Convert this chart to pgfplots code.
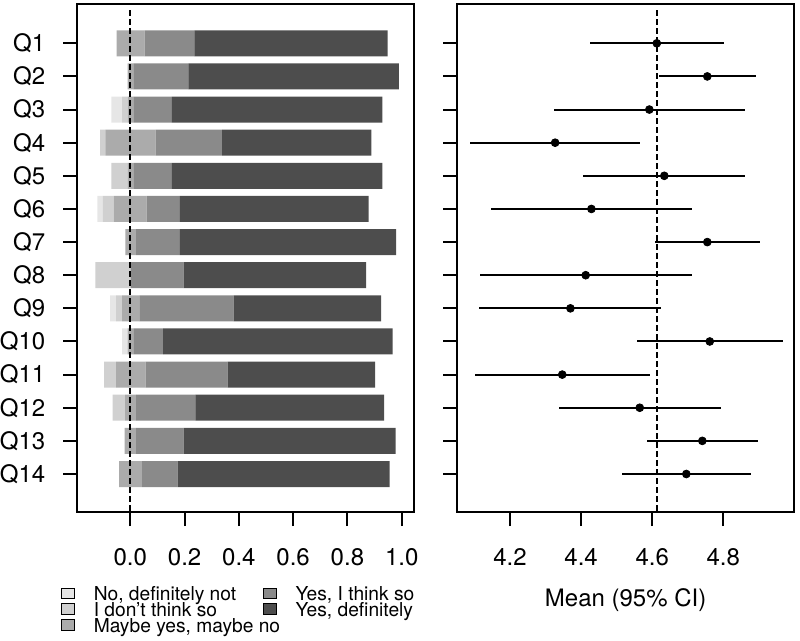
\documentclass[border=0pt]{standalone}
\usepackage{fontspec}
\setmainfont{TeX Gyre Heros}
\usepackage{pgfplots}
\usepackage{pgfplotstable}
\pgfplotsset{compat=1.18}
\definecolor{cA}{RGB}{230,230,230}
\definecolor{cB}{RGB}{208,208,208}
\definecolor{cC}{RGB}{171,171,171}
\definecolor{cD}{RGB}{138,138,138}
\definecolor{cE}{RGB}{77,77,77}

\pgfplotstableread{
y off a b c d e
1 -0.0501 0 0 0.1032 0.1827 0.7126
2 -0.0096 0 0 0.0207 0.2026 0.7763
3 -0.0700 0.0394 0.0210 0.0207 0.1425 0.7749
4 -0.1116 0 0.0195 0.1857 0.2443 0.5501
5 -0.0700 0 0.0615 0.0196 0.1425 0.7749
6 -0.1216 0.0199 0.0405 0.1216 0.1227 0.6953
7 -0.0184 0 0 0.0394 0.1621 0.7959
8 -0.1290 0 0.1305 0 0.1953 0.6717
9 -0.0748 0.0221 0.0221 0.0638 0.3478 0.5427
10 -0.0306 0.0210 0 0.0207 0.1094 0.8463
11 -0.0969 0 0.0442 0.1094 0.3022 0.5427
12 -0.0648 0 0.0453 0.0405 0.2185 0.6953
13 -0.0206 0 0 0.0416 0.1758 0.7811
14 -0.0416 0 0 0.0847 0.1316 0.7811
}\likert

\pgfplotstableread{
y m lo hi
1 4.613 4.425 4.801
2 4.755 4.620 4.892
3 4.592 4.324 4.862
4 4.327 4.088 4.566
5 4.634 4.405 4.862
6 4.429 4.147 4.711
7 4.755 4.609 4.904
8 4.413 4.116 4.711
9 4.370 4.114 4.625
10 4.762 4.556 4.967
11 4.347 4.102 4.594
12 4.565 4.339 4.793
13 4.741 4.584 4.897
14 4.696 4.514 4.879
}\ci

\pgfplotsset{
  common/.style={
    scale only axis, width=168.35bp, height=253.75bp,
    ymin=-0.171, ymax=15.147, y dir=reverse,
    ytick={1,2,3,4,5,6,7,8,9,10,11,12,13,14},
    tick align=outside, tick pos=left,
    major tick length=7bp,
    tick style={line width=1bp, black},
    axis line style={line width=1bp},
    tick label style={font=\fontsize{12bp}{14bp}\selectfont},
    /pgf/number format/assume math mode=true,
    xticklabel style={anchor=base, inner sep=0pt, yshift=-19.5bp},
    yticklabel style={anchor=east, inner sep=0pt, xshift=-8.85bp},
  }
}

\begin{document}
\begin{tikzpicture}
\useasboundingbox (0,0) rectangle (400bp,320.5bp);
\begin{axis}[common,
  at={(38.65bp,64.5bp)}, anchor=south west,
  xmin=-0.1953, xmax=1.0453,
  xbar stacked, bar width=0.785,
  stack negative=on previous,
  reverse stacked plots=false,
  xtick={0,0.2,0.4,0.6,0.8,1},
  xticklabels={\mbox{0.0},\mbox{0.2},\mbox{0.4},\mbox{0.6},\mbox{0.8},\mbox{1.0}},
  yticklabels={\mbox{Q1},\mbox{Q2},\mbox{Q3},\mbox{Q4},\mbox{Q5},\mbox{Q6},\mbox{Q7},\mbox{Q8},\mbox{Q9},\mbox{Q10},\mbox{Q11},\mbox{Q12},\mbox{Q13},\mbox{Q14}},
]
\addplot[draw=none, fill=none] table[x=off, y=y] {\likert};
\addplot[draw=none, fill=cA] table[x=a, y=y] {\likert};
\addplot[draw=none, fill=cB] table[x=b, y=y] {\likert};
\addplot[draw=none, fill=cC] table[x=c, y=y] {\likert};
\addplot[draw=none, fill=cD] table[x=d, y=y] {\likert};
\addplot[draw=none, fill=cE] table[x=e, y=y] {\likert};
\end{axis}

% overlay: zero reference line and legend of the left panel
\begin{axis}[
  at={(38.65bp,64.5bp)}, anchor=south west,
  scale only axis, width=168.35bp, height=253.75bp,
  hide axis, xmin=-0.1953, xmax=1.0453, ymin=-0.171, ymax=15.147, y dir=reverse,
  legend columns=3, transpose legend, legend cell align=left,
  legend style={at={(axis description cs:-0.0493,-0.1488)}, anchor=north west,
    draw=none, fill=none, inner sep=0pt, outer sep=0pt,
    row sep=0pt, column sep=0pt,
    font=\fontsize{9.6bp}{9.6bp}\selectfont,
    nodes={inner sep=0pt, outer sep=0pt, text height=6.4bp, text depth=1.3bp},
    cells={anchor=west}},
  legend image code/.code={
    \path[draw=none, fill=none] (0bp,-3.85bp) rectangle (16.3bp,3.85bp);
    \draw[#1,draw=black,line width=0.5bp] (0bp,-1.55bp) rectangle (6.5bp,3.75bp);},
]
\addlegendimage{fill=cA}
\addlegendentry{\makebox[84.35bp][l]{No, definitely not}}
\addlegendimage{fill=cB}
\addlegendentry{\makebox[84.35bp][l]{I don't think so}}
\addlegendimage{fill=cC}
\addlegendentry{\makebox[84.35bp][l]{Maybe yes, maybe no}}
\addlegendimage{fill=cD}
\addlegendentry{Yes, I think so}
\addlegendimage{fill=cE}
\addlegendentry{Yes, definitely}
\addplot[forget plot, black, line width=1bp, dash pattern=on 2.7bp off 1.8bp] coordinates {(0,0) (0,15.147)};
\end{axis}

\begin{axis}[common,
  at={(228.65bp,64.5bp)}, anchor=south west,
  xmin=4.0518, xmax=4.9989,
  xtick={4.2,4.4,4.6,4.8},
  xticklabels={\mbox{4.2},\mbox{4.4},\mbox{4.6},\mbox{4.8}},
  yticklabels={},
  xlabel={Mean (95\% CI)},
  every axis x label/.style={at={(axis description cs:0.5,0)}, anchor=base, inner sep=0pt, yshift=-47.35bp, font=\fontsize{12bp}{14bp}\selectfont},
]
\addplot[black, line width=1bp, dash pattern=on 2.7bp off 1.8bp] coordinates {(4.6126,0) (4.6126,15.147)};
\addplot[black, only marks, mark=*, mark size=1.95bp,
  error bars/.cd, x dir=both, x explicit, error mark=none,
  error bar style={line width=1bp, black}]
  table[x=m, y=y, x error plus expr=\thisrow{hi}-\thisrow{m}, x error minus expr=\thisrow{m}-\thisrow{lo}] {\ci};
\end{axis}
\end{tikzpicture}
\end{document}
